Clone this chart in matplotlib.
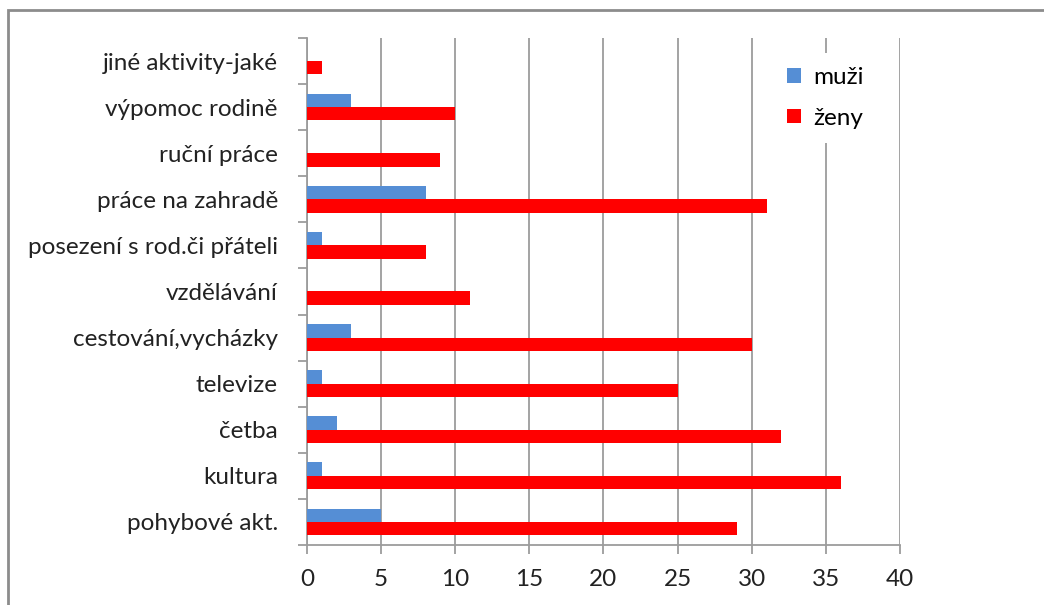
import numpy as np
import matplotlib.pyplot as plt
from matplotlib.patches import Rectangle

# kategorie odspodu nahoru (jak jsou v grafu)
kategorie = ['pohybové akt.', 'kultura', 'četba', 'televize', 'cestování,vycházky',
             'vzdělávání', 'posezení s rod.či přáteli', 'práce na zahradě',
             'ruční práce', 'výpomoc rodině', 'jiné aktivity-jaké']
muzi = [5, 1, 2, 1, 3, 0, 1, 8, 0, 3, 0]
zeny = [29, 36, 32, 25, 30, 11, 8, 31, 9, 10, 1]
x_ticks = [0, 5, 10, 15, 20, 25, 30, 35, 40]

plt.rcParams['font.family'] = ['Lato', 'DejaVu Sans']

fig = plt.figure(figsize=(10.44, 6.05), dpi=100)
ax = fig.add_axes([0.294, 0.0992, 0.568, 0.838])

y = np.arange(len(kategorie))
h = 0.29
ax.barh(y + h / 2, muzi, height=h, color='#558ED5', label='muži', zorder=3)
ax.barh(y - h / 2, zeny, height=h, color='#FF0000', label='ženy', zorder=3)

ax.set_xlim(0, 40)
ax.set_ylim(-0.5, len(kategorie) - 0.5)
ax.set_xticks(x_ticks)
ax.set_yticks(y)
ax.set_yticklabels(kategorie)
ax.set_yticks(np.arange(-0.5, len(kategorie)), minor=True)

gray = '#9C9C9C'
ax.grid(axis='x', color=gray, linewidth=1.3, zorder=0)
for s in ['top', 'right']:
    ax.spines[s].set_visible(False)
for s in ['left', 'bottom']:
    ax.spines[s].set_color(gray)
    ax.spines[s].set_linewidth(1.3)

fs = 17.5
ax.tick_params(axis='y', which='major', length=0, pad=21, labelsize=fs, labelcolor='#222222')
ax.tick_params(axis='y', which='minor', length=6.5, width=1.3, color=gray)
ax.tick_params(axis='x', length=6.5, width=1.3, color=gray, pad=11, labelsize=fs, labelcolor='#222222')

leg = ax.legend(loc='upper left', bbox_to_anchor=(0.765, 0.995), frameon=True, fontsize=fs,
                handlelength=0.55, handleheight=0.55, handletextpad=0.5, labelspacing=0.8,
                borderpad=0.6, fancybox=False)
leg.get_frame().set_facecolor('white')
leg.get_frame().set_edgecolor('none')
leg.get_frame().set_alpha(1)

# vnější rámeček grafu
fig.patches.append(Rectangle((8 / 1044, -0.1), 1.2, 1 - 10 / 605 + 0.1, transform=fig.transFigure,
                             fill=False, edgecolor='#8C8C8C', linewidth=2))

fig.savefig('out.png', dpi=100)
